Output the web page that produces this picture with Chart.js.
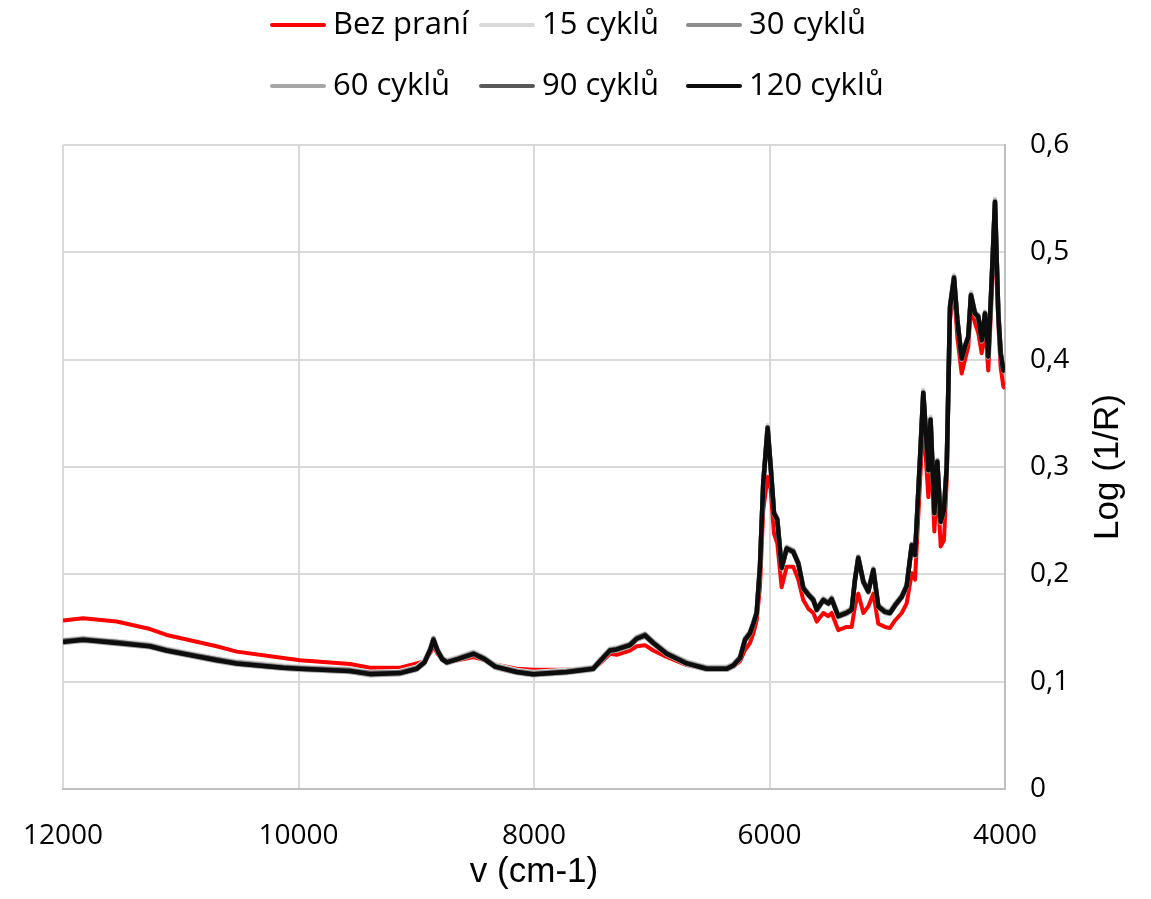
<!DOCTYPE html>
<html lang="cs">
<head>
<meta charset="utf-8">
<title>Log (1/R) – spektra</title>
<script src="https://cdn.jsdelivr.net/npm/chart.js@4.4.1/dist/chart.umd.min.js"></script>
<style>
  html, body { margin: 0; padding: 0; background: #fff; }
  #wrap { width: 1151px; height: 899px; position: relative; }
</style>
</head>
<body>
<div id="wrap"><canvas id="spectra"></canvas></div>
<script>
// ---- data ----
const seriesNames = ['Bez praní', '15 cyklů', '30 cyklů', '60 cyklů', '90 cyklů', '120 cyklů'];
const seriesColors = ['#ff0000', '#d9d9d9', '#8c8c8c', '#a6a6a6', '#595959', '#0d0d0d'];

const xTitle = 'v (cm-1)';
const yTitle = 'Log (1/R)';
const xTicks = [12000, 10000, 8000, 6000, 4000];
const yTicks = [0, 0.1, 0.2, 0.3, 0.4, 0.5, 0.6];

// wavenumbers (cm-1)
const wavenumbers = [
  12000, 11830, 11544, 11261, 11120, 10978, 10695, 10525, 10129, 9987,
  9563, 9393, 9138, 8996, 8930, 8880, 8854, 8820, 8780, 8740,
  8650, 8514, 8420, 8330, 8147, 8006, 7723, 7497, 7440, 7355,
  7298, 7185, 7128, 7057, 6987, 6873, 6703, 6533, 6363, 6307,
  6250, 6208, 6166, 6137, 6109, 6081, 6053, 6016, 5990, 5962,
  5934, 5897, 5854, 5798, 5755, 5713, 5670, 5628, 5599, 5543,
  5500, 5472, 5416, 5345, 5302, 5274, 5246, 5203, 5161, 5118,
  5076, 5019, 4977, 4934, 4877, 4835, 4792, 4764, 4722, 4694,
  4651, 4632, 4600, 4575, 4546, 4518, 4495, 4467, 4433, 4405,
  4368, 4340, 4312, 4289, 4255, 4227, 4198, 4170, 4142, 4113,
  4085, 4057, 4037, 4014, 4000
];

const bezPrani = [
  0.157, 0.159, 0.156, 0.149, 0.1435, 0.140, 0.133, 0.128, 0.122, 0.120,
  0.1165, 0.113, 0.113, 0.117, 0.119, 0.127, 0.134, 0.126, 0.121, 0.119,
  0.120, 0.123, 0.120, 0.116, 0.112, 0.111, 0.111, 0.112, 0.117, 0.126,
  0.125, 0.129, 0.133, 0.134, 0.129, 0.123, 0.1155, 0.112, 0.112, 0.114,
  0.119, 0.1295, 0.136, 0.145, 0.157, 0.188, 0.260, 0.291, 0.279, 0.238,
  0.229, 0.188, 0.207, 0.207, 0.195, 0.176, 0.168, 0.164, 0.156, 0.164,
  0.161, 0.164, 0.148, 0.151, 0.151, 0.170, 0.182, 0.164, 0.170, 0.182,
  0.154, 0.151, 0.150, 0.157, 0.164, 0.173, 0.201, 0.195, 0.285, 0.345,
  0.272, 0.322, 0.240, 0.288, 0.226, 0.232, 0.288, 0.437, 0.468, 0.421,
  0.387, 0.400, 0.412, 0.449, 0.434, 0.425, 0.406, 0.431, 0.390, 0.459,
  0.525, 0.434, 0.393, 0.375, 0.373
];

const cykly15 = [
  0.139, 0.141, 0.138, 0.135, 0.131, 0.128, 0.122, 0.119, 0.115, 0.114,
  0.112, 0.109, 0.110, 0.114, 0.120, 0.132, 0.141, 0.131, 0.123, 0.120,
  0.123, 0.128, 0.123, 0.116, 0.111, 0.109, 0.111, 0.114, 0.121, 0.131,
  0.132, 0.136, 0.142, 0.145, 0.138, 0.128, 0.119, 0.114, 0.114, 0.117,
  0.124, 0.141, 0.147, 0.156, 0.166, 0.209, 0.287, 0.339, 0.302, 0.259,
  0.253, 0.208, 0.226, 0.223, 0.212, 0.189, 0.183, 0.178, 0.169, 0.178,
  0.175, 0.179, 0.163, 0.166, 0.169, 0.197, 0.217, 0.195, 0.186, 0.206,
  0.172, 0.167, 0.166, 0.173, 0.181, 0.191, 0.229, 0.220, 0.309, 0.372,
  0.299, 0.347, 0.259, 0.307, 0.251, 0.262, 0.302, 0.452, 0.479, 0.439,
  0.403, 0.414, 0.423, 0.463, 0.445, 0.442, 0.420, 0.445, 0.405, 0.476,
  0.550, 0.445, 0.408, 0.392, 0.391
];

const cykly30 = [
  0.138, 0.140, 0.137, 0.134, 0.130, 0.127, 0.121, 0.118, 0.114, 0.113,
  0.111, 0.108, 0.109, 0.113, 0.119, 0.131, 0.140, 0.130, 0.122, 0.119,
  0.122, 0.127, 0.122, 0.115, 0.110, 0.108, 0.110, 0.113, 0.120, 0.130,
  0.131, 0.135, 0.141, 0.144, 0.137, 0.127, 0.118, 0.113, 0.113, 0.116,
  0.123, 0.140, 0.146, 0.155, 0.165, 0.208, 0.286, 0.337, 0.301, 0.258,
  0.252, 0.207, 0.225, 0.222, 0.211, 0.188, 0.182, 0.177, 0.168, 0.177,
  0.174, 0.178, 0.162, 0.165, 0.168, 0.196, 0.216, 0.194, 0.185, 0.205,
  0.171, 0.166, 0.165, 0.172, 0.180, 0.190, 0.228, 0.219, 0.308, 0.370,
  0.298, 0.345, 0.258, 0.306, 0.250, 0.261, 0.301, 0.450, 0.477, 0.438,
  0.402, 0.413, 0.422, 0.461, 0.444, 0.441, 0.419, 0.444, 0.404, 0.475,
  0.548, 0.444, 0.407, 0.391, 0.390
];

const cykly60 = [
  0.136, 0.138, 0.135, 0.132, 0.128, 0.125, 0.119, 0.116, 0.112, 0.111,
  0.109, 0.106, 0.107, 0.111, 0.117, 0.129, 0.138, 0.128, 0.120, 0.117,
  0.120, 0.125, 0.120, 0.113, 0.108, 0.106, 0.108, 0.111, 0.118, 0.128,
  0.129, 0.133, 0.139, 0.142, 0.135, 0.125, 0.116, 0.111, 0.111, 0.114,
  0.121, 0.138, 0.144, 0.153, 0.163, 0.206, 0.284, 0.334, 0.299, 0.256,
  0.250, 0.205, 0.223, 0.220, 0.209, 0.186, 0.180, 0.175, 0.166, 0.175,
  0.172, 0.176, 0.160, 0.163, 0.166, 0.194, 0.214, 0.192, 0.183, 0.203,
  0.169, 0.164, 0.163, 0.170, 0.178, 0.188, 0.226, 0.217, 0.306, 0.367,
  0.296, 0.342, 0.256, 0.304, 0.248, 0.259, 0.299, 0.447, 0.474, 0.436,
  0.400, 0.411, 0.420, 0.458, 0.442, 0.439, 0.417, 0.442, 0.402, 0.473,
  0.545, 0.442, 0.405, 0.389, 0.388
];

const cykly90 = [
  0.138, 0.139, 0.137, 0.133, 0.129, 0.126, 0.121, 0.117, 0.113, 0.112,
  0.110, 0.108, 0.108, 0.112, 0.118, 0.130, 0.140, 0.129, 0.121, 0.118,
  0.121, 0.126, 0.121, 0.114, 0.109, 0.107, 0.109, 0.112, 0.119, 0.129,
  0.130, 0.134, 0.140, 0.144, 0.136, 0.126, 0.117, 0.112, 0.112, 0.115,
  0.122, 0.139, 0.145, 0.154, 0.164, 0.207, 0.285, 0.337, 0.300, 0.257,
  0.251, 0.206, 0.224, 0.221, 0.210, 0.187, 0.181, 0.176, 0.167, 0.176,
  0.173, 0.177, 0.161, 0.164, 0.167, 0.195, 0.216, 0.193, 0.184, 0.204,
  0.170, 0.165, 0.164, 0.171, 0.179, 0.189, 0.227, 0.218, 0.307, 0.369,
  0.297, 0.344, 0.257, 0.305, 0.249, 0.260, 0.300, 0.449, 0.477, 0.437,
  0.401, 0.412, 0.421, 0.460, 0.443, 0.440, 0.418, 0.443, 0.403, 0.474,
  0.547, 0.443, 0.406, 0.390, 0.389
];

const cykly120 = [
  0.137, 0.139, 0.136, 0.133, 0.129, 0.126, 0.120, 0.117, 0.113, 0.112,
  0.110, 0.107, 0.108, 0.112, 0.118, 0.130, 0.139, 0.129, 0.121, 0.118,
  0.121, 0.126, 0.121, 0.114, 0.109, 0.107, 0.109, 0.112, 0.119, 0.129,
  0.130, 0.134, 0.140, 0.143, 0.136, 0.126, 0.117, 0.112, 0.112, 0.115,
  0.122, 0.139, 0.145, 0.154, 0.164, 0.207, 0.285, 0.336, 0.300, 0.257,
  0.251, 0.206, 0.224, 0.221, 0.210, 0.187, 0.181, 0.176, 0.167, 0.176,
  0.173, 0.177, 0.161, 0.164, 0.167, 0.195, 0.215, 0.193, 0.184, 0.204,
  0.170, 0.165, 0.164, 0.171, 0.179, 0.189, 0.227, 0.218, 0.307, 0.369,
  0.297, 0.344, 0.257, 0.305, 0.249, 0.260, 0.300, 0.449, 0.476, 0.437,
  0.401, 0.412, 0.421, 0.460, 0.443, 0.440, 0.418, 0.443, 0.403, 0.474,
  0.547, 0.443, 0.406, 0.390, 0.389
];

const seriesValues = [bezPrani, cykly15, cykly30, cykly60, cykly90, cykly120];

// ---- layout ----
const legendColX = [272, 481, 688];
const legendRowY = [25, 86];
const gridColor = '#d9d9d9';
const axisColor = '#bfbfbf';

// legend laid out in fixed columns + right-side title read bottom-to-top
const extrasPlugin = {
  id: 'extras',
  afterDraw(chart) {
    const ctx = chart.ctx;
    ctx.save();
    ctx.font = '31px "Open Sans"';
    ctx.textBaseline = 'middle';
    ctx.textAlign = 'left';
    ctx.fillStyle = '#000';
    chart.data.datasets.forEach((ds, i) => {
      const x = legendColX[i % 3];
      const y = legendRowY[Math.floor(i / 3)];
      ctx.strokeStyle = ds.borderColor;
      ctx.lineWidth = 4;
      ctx.lineCap = 'round';
      ctx.beginPath();
      ctx.moveTo(x, y);
      ctx.lineTo(x + 52, y);
      ctx.stroke();
      ctx.fillText(ds.label, x + 61, y);
    });

    const area = chart.chartArea;
    ctx.translate(1108, (area.top + area.bottom) / 2);
    ctx.rotate(-Math.PI / 2);
    ctx.font = '35px "Liberation Sans"';
    ctx.textAlign = 'center';
    ctx.fillText(yTitle, 0, 0);
    ctx.restore();
  }
};

const datasets = seriesNames.map((name, i) => ({
  label: name,
  data: wavenumbers.map((w, j) => ({ x: w, y: seriesValues[i][j] })),
  borderColor: seriesColors[i],
  backgroundColor: seriesColors[i],
  borderWidth: i === 0 ? 4 : 4.5,
  borderJoinStyle: 'round',
  pointRadius: 0,
  tension: 0,
  fill: false,
  order: seriesNames.length - 1 - i  // last series ends up on top
}));

new Chart(document.getElementById('spectra'), {
  type: 'line',
  data: { datasets },
  options: {
    responsive: true,
    maintainAspectRatio: false,
    animation: false,
    devicePixelRatio: 1,
    layout: { padding: { left: 63, top: 145, right: 0, bottom: 0 } },
    plugins: {
      legend: { display: false },
      tooltip: { enabled: false }
    },
    scales: {
      x: {
        type: 'linear',
        reverse: true,
        min: 4000,
        max: 12000,
        afterFit(scale) {
          scale.height = 110;
          // end labels fit inside the outer padding already
          scale.paddingLeft = 0;
          scale.paddingRight = 0;
        },
        afterBuildTicks(scale) { scale.ticks = xTicks.map(v => ({ value: v })); },
        ticks: {
          color: '#000',
          font: { family: 'Open Sans', size: 28 },
          padding: 30,
          maxRotation: 0,
          callback: v => String(v)
        },
        grid: { color: gridColor, lineWidth: 2, drawTicks: false },
        border: { color: axisColor, width: 2 },
        title: {
          display: true,
          text: xTitle,
          color: '#000',
          font: { family: 'Liberation Sans', size: 35 },
          padding: { top: 0, bottom: 6 }
        }
      },
      y: {
        position: 'right',
        min: 0,
        max: 0.6,
        afterFit(scale) { scale.width = 146; },
        afterBuildTicks(scale) { scale.ticks = yTicks.map(v => ({ value: v })); },
        ticks: {
          color: '#000',
          font: { family: 'Open Sans', size: 28 },
          padding: 25,
          callback: v => (v === 0 ? '0' : v.toFixed(1).replace('.', ','))
        },
        grid: { color: gridColor, lineWidth: 2, drawTicks: false },
        border: { color: axisColor, width: 2 }
      }
    }
  },
  plugins: [extrasPlugin]
});
</script>
</body>
</html>
